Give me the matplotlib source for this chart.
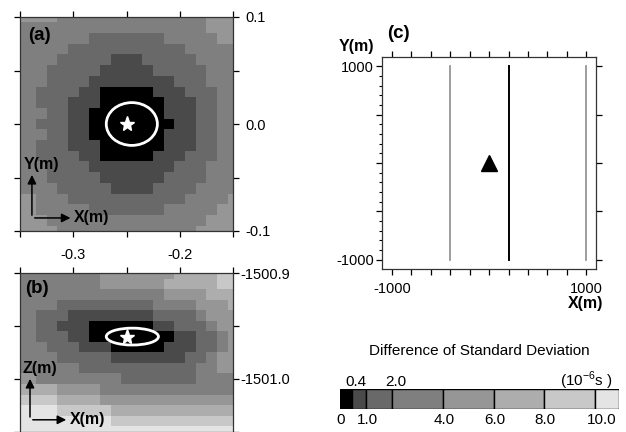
import numpy as np
import matplotlib
matplotlib.use('Agg')
import matplotlib.pyplot as plt
from matplotlib.colors import ListedColormap, BoundaryNorm
from matplotlib.patches import Ellipse

plt.rcParams['font.family'] = ['Liberation Sans', 'DejaVu Sans']

# colour classes of the scale (10^-6 s)
bounds = [0, 0.4, 1.0, 2.0, 4.0, 6.0, 8.0, 10.0, 11.0]
grays = ['#000000', '#4a4a4a', '#696969', '#7f7f7f', '#969696', '#adadad', '#c8c8c8', '#e4e4e4']
level_mid = [0.2, 0.7, 1.5, 3.0, 5.0, 7.0, 9.0, 10.5]

# (a) horizontal slice, rows from y=0.1 (top) to y=-0.1, columns x=-0.35..-0.15
xa = np.round(np.linspace(-0.35, -0.15, 21), 3)
ya = np.round(np.linspace(0.1, -0.1, 21), 3)
rows_a = [
    "444433333333333333444",
    "333333333333333333444",
    "333333322222223333344",
    "333332222222222233333",
    "333322222111222223333",
    "333222221111122222333",
    "333222211111111222333",
    "332222110000011122233",
    "332221110000001112233",
    "333221100000001112233",
    "332221100000000112233",
    "333221100000001112233",
    "332221110000001112233",
    "332222110000011122233",
    "333222211111111222333",
    "333222221111112222333",
    "333322222111122223333",
    "443332222222222233334",
    "443333322222223333344",
    "444333333333333333444",
    "444433333333333334444",
]

# (b) vertical slice, rows from z=-1500.90 (top) to z=-1501.05
zb = np.round(np.linspace(-1500.90, -1501.05, 16), 3)
rows_b = [
    "333333334444444555566",
    "333333334444445555566",
    "333333333333334444555",
    "333322222222233334445",
    "332221111111122223444",
    "332211100000011222344",
    "332221100000000112234",
    "333222111000001112234",
    "333322222111111122344",
    "333333222222222223344",
    "443333333322222223333",
    "555544443333333333333",
    "666655554444444444444",
    "777766666555555555555",
    "777777777666666666666",
    "777777777777777777777",
]

source_a = (-0.25, 0.0)
ellipse_a = (-0.245, 0.0, 0.048, 0.040)
source_b = (-0.25, -1500.96)
ellipse_b = (-0.2445, -1500.96, 0.049, 0.016)

# (c) plan view
line_x = [-400, 200, 1000]
line_col = ['#8c8c8c', '#000000', '#8c8c8c']
line_w = [1.2, 1.4, 1.2]
line_y = [-1000, 1000]
station = (0, 0)

cmap = ListedColormap(grays)
norm = BoundaryNorm(bounds, cmap.N)


def to_values(rows):
    return np.array([[level_mid[int(c)] for c in r] for r in rows])


fig = plt.figure(figsize=(6.26, 4.32), dpi=100)
W, H = 626, 432
ax_a = fig.add_axes([20 / W, 1 - 231 / H, 213 / W, 214 / H])
ax_b = fig.add_axes([20 / W, 1 - 431.5 / H, 213 / W, 158.2 / H])
ax_c = fig.add_axes([382.3 / W, 1 - 269.3 / H, 213.7 / W, 212.6 / H])
ax_cb = fig.add_axes([340 / W, 1 - 409.3 / H, 278.7 / W, 20.3 / H])

fs = 10.5
bold = dict(fontweight='bold', fontsize=11.5)


def style(ax):
    ax.tick_params(direction='out', length=4, width=0.9, top=True, bottom=True,
                   left=True, right=True, labelsize=fs, pad=2)
    for s in ax.spines.values():
        s.set_linewidth(0.9)
        s.set_color('#333333')


def axis_arrows(ax, label_v, xf, yf, vtip, htip, tv, th):
    ax.annotate('', xy=(xf, vtip), xytext=(xf, yf), xycoords='axes fraction',
                arrowprops=dict(arrowstyle='-|>', color='k', lw=1.1, mutation_scale=13))
    ax.annotate('', xy=(htip, yf), xytext=(xf, yf), xycoords='axes fraction',
                arrowprops=dict(arrowstyle='-|>', color='k', lw=1.1, mutation_scale=13))
    ax.text(tv[0], tv[1], label_v, transform=ax.transAxes, ha='center', va='center', **bold)
    ax.text(th[0], th[1], 'X(m)', transform=ax.transAxes, ha='left', va='center', **bold)


# panel (a)
ax_a.pcolormesh(xa, ya[::-1], to_values(rows_a)[::-1], shading='nearest', cmap=cmap, norm=norm)
ax_a.add_patch(Ellipse(ellipse_a[:2], ellipse_a[2], ellipse_a[3], fill=False, ec='white', lw=2))
ax_a.plot(*source_a, marker='*', color='white', ms=11, mec='white')
ax_a.set_xlim(-0.35, -0.15)
ax_a.set_ylim(-0.1, 0.1)
style(ax_a)
ax_a.set_xticks([-0.35, -0.3, -0.25, -0.2, -0.15])
ax_a.set_xticklabels(['', '-0.3', '', '-0.2', ''])
ax_a.set_yticks([-0.1, -0.05, 0.0, 0.05, 0.1])
ax_a.set_yticklabels(['-0.1', '', '0.0', '', '0.1'])
ax_a.tick_params(axis='y', labelleft=False, labelright=True, pad=5)
ax_a.tick_params(axis='x', pad=8)
ax_a.text(0.04, 0.915, '(a)', transform=ax_a.transAxes, ha='left', va='center',
          fontweight='bold', fontsize=13.5)
axis_arrows(ax_a, 'Y(m)', 0.056, 0.061, 0.275, 0.25, (0.1, 0.31), (0.255, 0.061))

# panel (b)
ax_b.pcolormesh(xa, zb[::-1], to_values(rows_b)[::-1], shading='nearest', cmap=cmap, norm=norm)
ax_b.add_patch(Ellipse(ellipse_b[:2], ellipse_b[2], ellipse_b[3], fill=False, ec='white', lw=2))
ax_b.plot(*source_b, marker='*', color='white', ms=11, mec='white')
ax_b.set_xlim(-0.35, -0.15)
ax_b.set_ylim(-1501.05, -1500.9)
style(ax_b)
ax_b.set_xticks([-0.35, -0.3, -0.25, -0.2, -0.15])
ax_b.set_xticklabels([])
ax_b.set_yticks([-1501.05, -1501.0, -1500.95, -1500.9])
ax_b.set_yticklabels(['', '-1501.0', '', '-1500.9'])
ax_b.tick_params(labelleft=False, labelright=True, pad=1)
ax_b.text(0.025, 0.905, '(b)', transform=ax_b.transAxes, ha='left', va='center',
          fontweight='bold', fontsize=13.5)
axis_arrows(ax_b, 'Z(m)', 0.047, 0.074, 0.35, 0.23, (0.094, 0.40), (0.235, 0.074))

# panel (c)
for x, c, w in zip(line_x, line_col, line_w):
    ax_c.plot([x, x], line_y, color=c, lw=w)
ax_c.plot(*station, marker='^', color='k', ms=12, ls='none')
ax_c.set_xlim(-1100, 1100)
ax_c.set_ylim(-1100, 1100)
style(ax_c)
ax_c.set_xticks(np.arange(-1000, 1001, 200))
ax_c.set_xticklabels(['-1000'] + [''] * 9 + ['1000'])
ax_c.set_yticks([-1000, -500, 0, 500, 1000])
ax_c.set_yticklabels(['-1000', '', '', '', '1000'])
ax_c.set_yticks(np.arange(-1000, 1001, 100), minor=True)
ax_c.tick_params(axis='y', which='minor', direction='out', length=2, width=0.8,
                 left=True, right=False)
ax_c.tick_params(axis='x', pad=5)
ax_c.text(0.076, 1.107, '(c)', transform=ax_c.transAxes, ha='center', va='center',
          fontweight='bold', fontsize=13.5)
ax_c.text(-0.123, 1.046, 'Y(m)', transform=ax_c.transAxes, ha='center', va='center', **bold)
ax_c.text(0.953, -0.16, 'X(m)', transform=ax_c.transAxes, ha='center', va='center', **bold)

# colour scale (uneven spacing below 1.0)
cb_pos = [0, 11.7, 26, 52.3, 103.3, 154.3, 204.3, 255.3, 278.7]
ax_cb.bar(cb_pos[:-1], 1, width=np.diff(cb_pos), align='edge', bottom=0,
          color=grays, edgecolor='black', lw=1)
ax_cb.set_xlim(0, cb_pos[-1])
ax_cb.set_ylim(0, 1)
ax_cb.axis('off')


def cb_x(v):
    return np.interp(v, bounds, cb_pos)


below = [0, 1.0, 4.0, 6.0, 8.0, 10.0]
above = [0.4, 2.0]
for v in below:
    lab = '0' if v == 0 else f'{v:.1f}'
    off = 6 if v == 10.0 else 1
    ax_cb.text(cb_x(v) + off, -0.55, lab, ha='center', va='center', fontsize=11)
for v in above:
    ax_cb.text(cb_x(v) + 4, 1.35, f'{v:.1f}', ha='center', va='center', fontsize=11)
ax_cb.text(273, 1.4, r'(10$^{\mathregular{-6}}$s )', ha='right', va='center', fontsize=11)
ax_cb.text(139, 2.85, 'Difference of Standard Deviation', ha='center', va='center',
           fontsize=11)

fig.savefig('out.png', dpi=100)
